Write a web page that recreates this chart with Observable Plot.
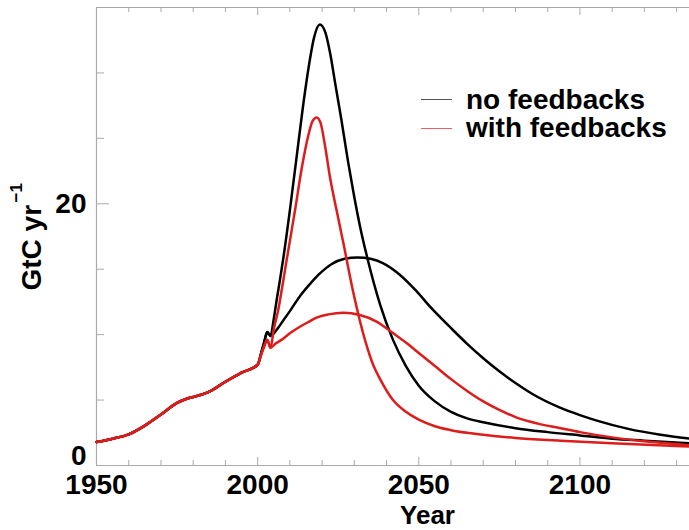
<!DOCTYPE html>
<html><head><meta charset="utf-8">
<script src="https://cdn.jsdelivr.net/npm/d3@7"></script>
<script src="https://cdn.jsdelivr.net/npm/@observablehq/plot@0.6"></script>
<style>
body{margin:0;background:#fff;}
#wrap{position:relative;width:689px;height:530px;overflow:hidden;font-family:"Liberation Sans",Arial,Helvetica,sans-serif;font-weight:bold;}
.sw{position:absolute;left:421px;width:31px;height:1px;}
.lt{position:absolute;left:466px;font-size:28px;line-height:28px;color:#000;white-space:nowrap;}
</style></head>
<body><div id="wrap"></div>
<script>
// ---- data ----
const seriesNames = ["no feedbacks", "with feedbacks"];
const seriesColors = ["#000000", "#dd1c1c"];

// shared history
const histYears  = [1950,1955,1960,1965,1970,1975,1978,1981,1985,1990,1995,2000];
const histValues = [1.79,2.05,2.38,3.05,3.9,4.78,5.1,5.3,5.65,6.4,7.1,7.7];

// no feedbacks: shared early years, then fast and slow pathways
const noFbEarlyYears  = [2001,2002,2003,2004];
const noFbEarlyValues = [8.5,9.4,10.2,9.9];
const noFbFastYears  = [2005,2006,2007,2008,2010,2012,2014,2016,2017.5,2019.3,2021,2022.5,2024,2026,2028,2030,2032,2034,2038,2042,2046,2050,2055,2060,2065,2070,2080,2090,2100,2110,2120,2134];
const noFbFastValues = [11.2,12.8,14.3,15.9,19.5,23.4,27.3,30.7,32.7,33.7,33.1,31.5,29.3,26.4,23.3,20.5,18.0,15.9,12.3,9.6,7.6,6.1,4.9,4.1,3.6,3.3,2.85,2.55,2.3,2.05,1.9,1.7];
const noFbSlowYears  = [2006,2008,2010,2013,2016,2019,2023,2027,2031,2035,2039,2044,2049,2054,2060,2065,2070,2075,2080,2085,2094,2100,2105,2115,2125,2134];
const noFbSlowValues = [10.4,11.1,11.8,12.9,13.8,14.6,15.4,15.8,15.9,15.8,15.45,14.6,13.4,12.0,10.5,9.3,8.2,7.2,6.3,5.5,4.4,3.85,3.45,2.8,2.35,2.05];

// with feedbacks
const fbEarlyYears  = [2001,2002,2003,2004];
const fbEarlyValues = [8.4,9.1,9.6,9.0];
const fbFastYears  = [2005,2006.4,2008,2009,2011.6,2013.6,2015.7,2017,2018.3,2019.5,2021,2022.4,2024.5,2026.6,2029.7,2033.3,2036,2038,2042,2046,2050,2055,2060,2070,2080,2094,2110,2134];
const fbFastValues = [10.4,11.9,14.2,15.7,19.5,22.6,25.2,26.3,26.6,26.2,24.3,22.1,19.5,17.0,13.2,9.6,7.6,6.6,5.0,4.1,3.5,3.0,2.7,2.35,2.1,1.9,1.7,1.45];
const fbSlowYears  = [2005.5,2007.4,2010,2013.1,2016,2018.3,2022,2026.6,2031.7,2036.9,2042.1,2046,2050,2055,2060,2065,2070,2075,2080,2087,2094,2100,2110,2120,2134];
const fbSlowValues = [9.3,9.6,10.1,10.6,11.0,11.3,11.55,11.67,11.5,11.0,10.1,9.4,8.6,7.6,6.6,5.7,4.9,4.25,3.7,3.2,2.85,2.55,2.15,1.85,1.55];

// axis ticks
const xMajorTicks = [1950,2000,2050,2100];
const xMinorTicks = [1960,1970,1980,1990,2010,2020,2030,2040,2060,2070,2080,2090,2110,2120,2130];
const xTickLabels = ["1950","2000","2050","2100"];
const yMajorTicks = [0,20];
const yMinorTicks = [5,10,15,25,30];
const yTickLabels = ["0","20"];
const xDomain = [1950, 2134];
const yDomain = [0, 35];

// ---- build tables ----
function build(id, parts) {
  const rows = [];
  for (const [ys, vs] of parts) ys.forEach((y, i) => rows.push({id, year: y, value: vs[i]}));
  return rows;
}
const blackRows = [
  ...build("nf-fast", [[histYears, histValues], [noFbEarlyYears, noFbEarlyValues], [noFbFastYears, noFbFastValues]]),
  ...build("nf-slow", [[histYears, histValues], [noFbEarlyYears, noFbEarlyValues], [noFbSlowYears, noFbSlowValues]])
];
const redRows = [
  ...build("fb-fast", [[histYears, histValues], [fbEarlyYears, fbEarlyValues], [fbFastYears, fbFastValues]]),
  ...build("fb-slow", [[histYears, histValues], [fbEarlyYears, fbEarlyValues], [fbSlowYears, fbSlowValues]])
];

const W = 689, H = 530, mL = 96, mR = 0, mT = 7, mB = 65;
const frameW = W - mL - mR, frameH = H - mT - mB;
const axisColor = "#aaaaaa";

const chart = Plot.plot({
  width: W, height: H,
  marginLeft: mL, marginRight: mR, marginTop: mT, marginBottom: mB,
  style: {fontFamily: "'Liberation Sans', Arial, Helvetica, sans-serif", fontSize: "28px", fontWeight: "bold", background: "#fff", color: "#000"},
  x: {domain: xDomain, label: null},
  y: {domain: yDomain, label: null},
  marks: [
    // frame
    Plot.ruleX([xDomain[0]], {stroke: axisColor, strokeWidth: 1.2}),
    Plot.ruleY([yDomain[0]], {stroke: axisColor, strokeWidth: 1.2}),
    Plot.ruleY([yDomain[1]], {stroke: axisColor, strokeWidth: 1.2}),
    // inward ticks
    Plot.ruleX(xMajorTicks, {stroke: axisColor, insetTop: frameH - 8}),
    Plot.ruleX(xMinorTicks, {stroke: axisColor, insetTop: frameH - 5}),
    Plot.ruleX(xMajorTicks, {stroke: axisColor, insetBottom: frameH - 8}),
    Plot.ruleX(xMinorTicks, {stroke: axisColor, insetBottom: frameH - 5}),
    Plot.ruleY(yMajorTicks, {stroke: axisColor, insetRight: frameW - 13}),
    Plot.ruleY(yMinorTicks, {stroke: axisColor, insetRight: frameW - 8}),
    // tick labels
    Plot.axisX(xMajorTicks, {tickSize: 0, tickPadding: 9, label: null, tickFormat: (d, i) => xTickLabels[i], fontSize: 28, fontWeight: "bold"}),
    Plot.axisY([yMajorTicks[1]], {tickSize: 0, tickPadding: 10, label: null, tickFormat: () => yTickLabels[1], fontSize: 28, fontWeight: "bold"}),
    Plot.axisY([yMajorTicks[0]], {tickSize: 0, tickPadding: 10, label: null, tickFormat: () => yTickLabels[0], dy: -9.5, fontSize: 28, fontWeight: "bold"}),
    // axis titles
    Plot.text(["Year"], {text: d => d, frameAnchor: "bottom", dx: 34.5, dy: 40.5, lineAnchor: "top", fontSize: 26, fontWeight: "bold"}),
    Plot.text(["GtC yr"], {text: d => d, frameAnchor: "left", rotate: -90, textAnchor: "start", dx: -64.5, dy: 54, fontSize: 28, fontWeight: "bold"}),
    Plot.text(["\u22121"], {text: d => d, frameAnchor: "left", rotate: -90, textAnchor: "start", dx: -79.7, dy: -34, fontSize: 17, fontWeight: "bold"}),
    // data
    Plot.line(blackRows, {x: "year", y: "value", z: "id", stroke: seriesColors[0], strokeWidth: 2.5, curve: "monotone-x"}),
    Plot.line(redRows, {x: "year", y: "value", z: "id", stroke: seriesColors[1], strokeWidth: 2.5, curve: "monotone-x"})
  ]
});

const wrap = document.getElementById("wrap");
wrap.appendChild(chart);

// legend
const legendLineY = [99, 128];
const legendTextTop = [85.5, 113.5];
seriesNames.forEach((name, i) => {
  const sw = document.createElement("div");
  sw.className = "sw";
  sw.style.top = legendLineY[i] + "px";
  sw.style.background = i === 0 ? "#555" : "#e8606a";
  wrap.appendChild(sw);
  const t = document.createElement("div");
  t.className = "lt";
  t.style.top = legendTextTop[i] + "px";
  t.textContent = name;
  wrap.appendChild(t);
});
</script>
</body></html>
